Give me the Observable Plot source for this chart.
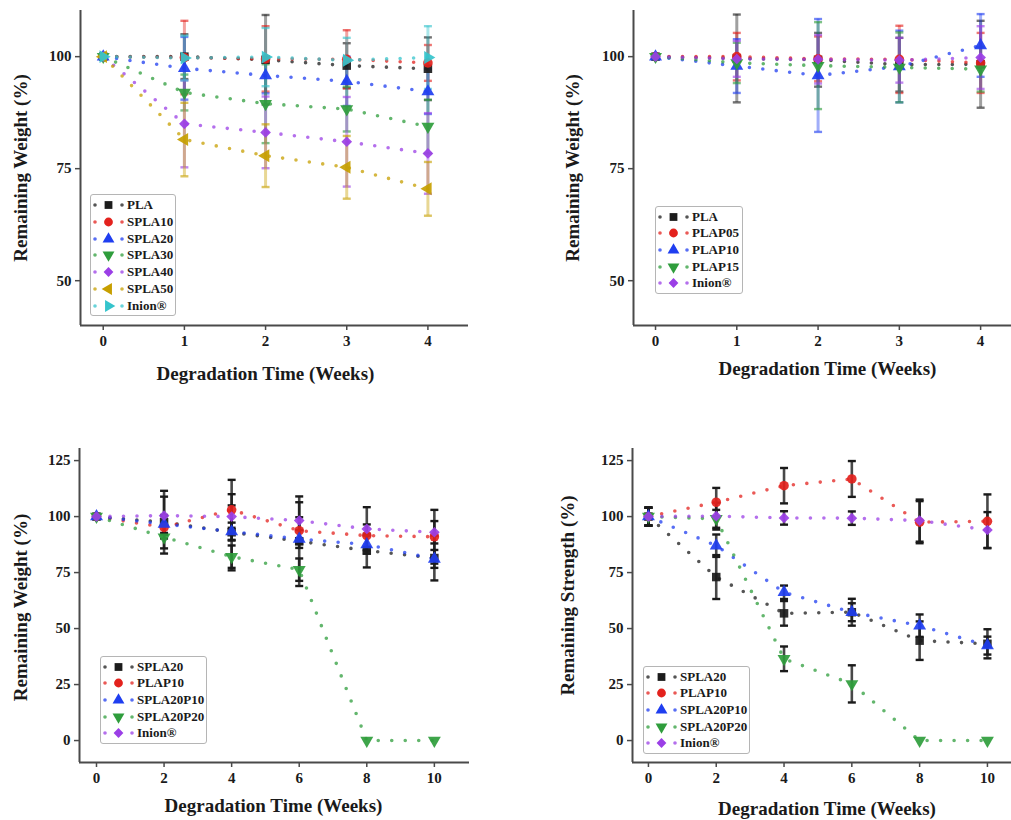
<!DOCTYPE html>
<html>
<head>
<meta charset="utf-8">
<script src="https://cdn.jsdelivr.net/npm/d3@7"></script>
<script src="https://cdn.jsdelivr.net/npm/@observablehq/plot@0.6"></script>
<style>
  body { margin: 0; background: #fff; }
  #root { position: relative; width: 1011px; height: 820px; overflow: hidden; background: #fff;
          font-family: "Liberation Serif", "Times New Roman", serif; }
  .panel { position: absolute; }
  .legend { position: absolute; border: 1px solid #b5b5b5; border-radius: 3px; background: #fff; box-sizing: border-box; }
  .legend .row { position: absolute; left: 0; height: 16px; }
  .legend .row span { position: absolute; left: 36px; font-size: 13px; font-weight: bold; color: #1a1a1a; white-space: nowrap; line-height: 16px; top: 0; }
</style>
</head>
<body>
<div id="root"></div>
<script>
// ---------------- DATA ----------------
// Panel A: remaining weight, SPLA blends (weeks 0-4)
const weeksA = [0, 1, 2, 3, 4];
const namesA = ["PLA", "SPLA10", "SPLA20", "SPLA30", "SPLA40", "SPLA50", "Inion®"];
const valuesA = [
  [100, 100.0, 99.3, 98.0, 97.3],
  [100, 99.8, 99.5, 99.4, 98.6],
  [100, 97.4, 95.8, 94.5, 92.2],
  [100, 92.0, 89.5, 88.3, 84.4],
  [100, 85.0, 83.1, 81.0, 78.4],
  [100, 81.5, 77.9, 75.3, 70.5],
  [100, 99.7, 99.9, 99.2, 99.8]
];
const errorsA = [
  [0, 5.0, 10.0, 5.0, 7.0],
  [0, 8.2, 7.3, 6.5, 4.0],
  [0, 7.0, 4.0, 5.5, 5.0],
  [0, 4.0, 8.8, 5.0, 6.0],
  [0, 9.7, 8.0, 10.0, 9.0],
  [0, 8.2, 7.0, 7.0, 6.0],
  [0, 5.0, 6.5, 5.0, 7.0]
];

// Panel B: remaining weight, PLA/PEG blends (weeks 0-4)
const weeksB = [0, 1, 2, 3, 4];
const namesB = ["PLA", "PLAP05", "PLAP10", "PLAP15", "Inion®"];
const valuesB = [
  [100, 99.6, 99.3, 98.2, 98.3],
  [100, 100.0, 99.5, 99.4, 98.6],
  [100, 97.9, 95.8, 97.8, 102.5],
  [100, 98.6, 98.0, 97.6, 97.2],
  [100, 99.5, 99.4, 99.2, 99.8]
];
const errorsB = [
  [0, 9.8, 6.0, 6.0, 9.7],
  [0, 5.3, 5.0, 7.5, 6.7],
  [0, 6.0, 12.6, 8.0, 7.0],
  [0, 4.5, 9.7, 7.8, 5.0],
  [0, 4.0, 5.4, 5.0, 7.0]
];

// Panel C: remaining weight, long term (weeks 0-10)
const weeksC = [0, 2, 4, 6, 8, 10];
const namesC = ["SPLA20", "PLAP10", "SPLA20P10", "SPLA20P20", "Inion®"];
const valuesC = [
  [100, 97.5, 93.0, 89.0, 84.8, 81.5],
  [100, 95.2, 103.0, 93.7, 91.5, 91.0],
  [100, 96.7, 93.3, 90.0, 87.5, 81.1],
  [100, 90.8, 82.1, 76.3, 0, 0],
  [100, 100.4, 100.0, 98.2, 94.5, 93.0]
];
const errorsC = [
  [0, 14.0, 17.0, 20.0, 7.5, 10.0],
  [0, 5.0, 13.4, 6.0, 5.0, 12.0],
  [0, 4.0, 4.0, 4.0, 4.0, 4.0],
  [0, 5.0, 5.0, 5.0, 0, 0],
  [0, 8.5, 5.0, 8.2, 9.7, 5.0]
];

// Panel D: remaining strength (weeks 0-10)
const weeksD = [0, 2, 4, 6, 8, 10];
const namesD = ["SPLA20", "PLAP10", "SPLA20P10", "SPLA20P20", "Inion®"];
const valuesD = [
  [100, 73.0, 56.8, 57.3, 44.6, 43.2],
  [100, 106.4, 113.8, 116.8, 97.5, 97.9],
  [100, 87.0, 66.2, 57.3, 51.3, 42.4],
  [100, 99.0, 36.5, 25.3, 0, 0],
  [100, 100.2, 99.4, 99.3, 98.2, 94.0]
];
const errorsD = [
  [4, 9.8, 5.5, 6.0, 8.6, 6.5],
  [4, 6.4, 7.9, 8.0, 9.4, 12.0],
  [4, 5.0, 3.0, 4.0, 5.0, 4.0],
  [4, 4.0, 5.5, 8.3, 0, 0],
  [4, 6.0, 3.0, 3.0, 9.4, 8.0]
];

const ticksWeight14 = [50, 75, 100];
const ticksWeek4 = [0, 1, 2, 3, 4];
const ticksPct = [0, 25, 50, 75, 100, 125];
const ticksWeek10 = [0, 2, 4, 6, 8, 10];

const xTitle = "Degradation Time (Weeks)";
const yTitleW = "Remaining Weight (%)";
const yTitleS = "Remaining Strength (%)";

// ---------------- STYLE ----------------
const C = {black: "#1c1c1c", red: "#e3221d", blue: "#1f3ef0", green: "#2f9d3c", purple: "#9b3fe6", gold: "#c79f00", cyan: "#35c4cc"};

// custom triangle symbols: angle of the tip (0 = up)
function triSym(rot) {
  return {
    draw(ctx, size) {
      const y = -Math.sqrt(size / (Math.sqrt(3) * 3));
      const pts = [[0, 2 * y], [-Math.sqrt(3) * y, -y], [Math.sqrt(3) * y, -y]];
      const c = Math.cos(rot), s = Math.sin(rot);
      pts.forEach(([px, py], i) => {
        const qx = px * c - py * s, qy = px * s + py * c;
        if (i === 0) ctx.moveTo(qx, qy); else ctx.lineTo(qx, qy);
      });
      ctx.closePath();
    }
  };
}
const triUp = triSym(0), triDown = triSym(Math.PI), triRight = triSym(Math.PI / 2), triLeft = triSym(-Math.PI / 2);
const capSym = {draw(ctx, size) { const w = Math.sqrt(size / Math.PI); ctx.moveTo(-w, 0); ctx.lineTo(w, 0); }};
const SYM = {square: d3.symbolSquare, circle: d3.symbolCircle, up: triUp, down: triDown, diamond: d3.symbolDiamond2, left: triLeft, right: triRight};

const FONT = '"Liberation Serif", "Times New Roman", serif';

function makePanel(cfg) {
  const rows = [];
  cfg.names.forEach((n, si) => cfg.weeks.forEach((w, wi) => rows.push({s: n, si, x: w, y: cfg.values[si][wi], e: cfg.errors[si][wi]})));
  const marks = [];
  // error bars
  cfg.names.forEach((n, si) => {
    const d = rows.filter(r => r.si === si && r.e > 0);
    const col = cfg.coloredBars ? cfg.colors[si] : "#1a1a1a";
    const op = cfg.coloredBars ? 0.42 : 0.8;
    marks.push(Plot.ruleX(d, {x: "x", y1: r => r.y - r.e, y2: r => r.y + r.e, stroke: col, strokeWidth: cfg.coloredBars ? 3 : 2.6, strokeOpacity: op}));
    marks.push(Plot.dot(d, {x: "x", y: r => r.y + r.e, symbol: capSym, r: 4, stroke: col, strokeWidth: 2.4, strokeOpacity: Math.min(1, op + 0.2), fill: "none"}));
    marks.push(Plot.dot(d, {x: "x", y: r => r.y - r.e, symbol: capSym, r: 4, stroke: col, strokeWidth: 2.4, strokeOpacity: Math.min(1, op + 0.2), fill: "none"}));
  });
  // dotted lines
  cfg.names.forEach((n, si) => {
    marks.push(Plot.line(rows.filter(r => r.si === si), {x: "x", y: "y", stroke: cfg.colors[si], strokeWidth: 3.6, strokeDasharray: "0 13.5", strokeLinecap: "round", strokeOpacity: 0.75}));
  });
  // markers
  cfg.names.forEach((n, si) => {
    marks.push(Plot.dot(rows.filter(r => r.si === si), {x: "x", y: "y", symbol: SYM[cfg.symbols[si]], r: 4.8, fill: cfg.colors[si], fillOpacity: 0.92, stroke: "none"}));
  });
  // axes
  marks.push(Plot.ruleY([cfg.yDomain[0]], {stroke: "#4a4a4a", strokeWidth: 2}));
  marks.push(Plot.ruleX([cfg.xDomain[0]], {stroke: "#4a4a4a", strokeWidth: 2}));
  marks.push(Plot.axisX({ticks: cfg.xTicks, tickSize: 5, tickPadding: 5, tickFormat: d => String(d), label: null, stroke: "#4a4a4a", strokeWidth: 1.5, fontSize: 15, fontWeight: "bold", fill: "#1a1a1a"}));
  marks.push(Plot.axisY({ticks: cfg.yTicks, tickSize: 5, tickPadding: 4, tickFormat: d => String(d), label: null, stroke: "#4a4a4a", strokeWidth: 1.5, fontSize: 15, fontWeight: "bold", fill: "#1a1a1a"}));
  marks.push(Plot.text([cfg.xTitle], {text: d => d, frameAnchor: "bottom", textAnchor: "middle", lineAnchor: "middle", dx: cfg.xlDx, dy: cfg.xlDy, fontSize: 19, fontWeight: "bold", fill: "#1a1a1a"}));
  marks.push(Plot.text([cfg.yTitle], {text: d => d, frameAnchor: "left", textAnchor: "middle", lineAnchor: "middle", rotate: -90, dx: cfg.ylDx, dy: cfg.ylDy, fontSize: 19, fontWeight: "bold", fill: "#1a1a1a"}));

  const chart = Plot.plot({
    width: cfg.width, height: cfg.height,
    marginLeft: cfg.mL, marginRight: cfg.mR, marginTop: cfg.mT, marginBottom: cfg.mB,
    x: {domain: cfg.xDomain, axis: null},
    y: {domain: cfg.yDomain, axis: null},
    style: {fontFamily: FONT, background: "transparent", overflow: "visible"},
    marks
  });
  const wrap = document.createElement("div");
  wrap.className = "panel";
  wrap.style.left = cfg.left + "px";
  wrap.style.top = cfg.top + "px";
  wrap.appendChild(chart);
  document.getElementById("root").appendChild(wrap);

  // legend
  const L = cfg.legend;
  const box = document.createElement("div");
  box.className = "legend";
  box.style.left = L.x + "px"; box.style.top = L.y + "px";
  box.style.width = L.w + "px"; box.style.height = L.h + "px";
  cfg.names.forEach((n, si) => {
    const row = document.createElement("div");
    row.className = "row";
    row.style.top = (L.first - L.y - 8 + si * L.step - 1) + "px";
    row.style.width = L.w + "px";
    const svg = d3.create("svg").attr("width", 36).attr("height", 16).style("position", "absolute").style("left", "0px").style("top", "0px");
    svg.append("circle").attr("cx", 4).attr("cy", 8).attr("r", 1.8).attr("fill", cfg.colors[si]).attr("fill-opacity", 0.75);
    svg.append("circle").attr("cx", 31).attr("cy", 8).attr("r", 1.8).attr("fill", cfg.colors[si]).attr("fill-opacity", 0.75);
    svg.append("path").attr("transform", "translate(17.5,8)").attr("d", d3.symbol(SYM[cfg.symbols[si]], Math.PI * 4.4 * 4.4)()).attr("fill", cfg.colors[si]);
    row.appendChild(svg.node());
    const sp = document.createElement("span");
    sp.textContent = n;
    row.appendChild(sp);
    box.appendChild(row);
  });
  document.getElementById("root").appendChild(box);
}

makePanel({
  left: 0, top: 0, width: 500, height: 420, mL: 80, mR: 32, mT: 10, mB: 95,
  xDomain: [-0.28, 4.5], yDomain: [40, 110.3], xTicks: ticksWeek4, yTicks: ticksWeight14,
  weeks: weeksA, names: namesA, values: valuesA, errors: errorsA,
  colors: [C.black, C.red, C.blue, C.green, C.purple, C.gold, C.cyan],
  symbols: ["square", "circle", "up", "down", "diamond", "left", "right"],
  coloredBars: true, xTitle, yTitle: yTitleW, xlDx: -9, xlDy: 48, ylDx: -60, ylDy: 0,
  legend: {x: 90, y: 194, w: 86, h: 122, first: 205, step: 16.8}
});
makePanel({
  left: 500, top: 0, width: 511, height: 420, mL: 133, mR: 0, mT: 10, mB: 95,
  xDomain: [-0.271, 4.38], yDomain: [40, 110.3], xTicks: ticksWeek4, yTicks: ticksWeight14,
  weeks: weeksB, names: namesB, values: valuesB, errors: errorsB,
  colors: [C.black, C.red, C.blue, C.green, C.purple],
  symbols: ["square", "circle", "up", "down", "diamond"],
  coloredBars: true, xTitle, yTitle: yTitleW, xlDx: 5, xlDy: 43, ylDx: -61, ylDy: 0,
  legend: {x: 655, y: 206, w: 88, h: 88, first: 216.7, step: 16.67}
});
makePanel({
  left: 0, top: 420, width: 500, height: 400, mL: 79, mR: 31, mT: 28, mB: 58,
  xDomain: [-0.503, 11.04], yDomain: [-9.8, 130.4], xTicks: ticksWeek10, yTicks: ticksPct,
  weeks: weeksC, names: namesC, values: valuesC, errors: errorsC,
  colors: [C.black, C.red, C.blue, C.green, C.purple],
  symbols: ["square", "circle", "up", "down", "diamond"],
  coloredBars: false, xTitle, yTitle: yTitleW, xlDx: -1, xlDy: 43, ylDx: -59, ylDy: 2,
  legend: {x: 100, y: 656, w: 107, h: 88, first: 666.7, step: 16.67}
});
makePanel({
  left: 500, top: 420, width: 511, height: 400, mL: 132, mR: 0, mT: 28, mB: 58,
  xDomain: [-0.47, 10.71], yDomain: [-9.8, 130.4], xTicks: ticksWeek10, yTicks: ticksPct,
  weeks: weeksD, names: namesD, values: valuesD, errors: errorsD,
  colors: [C.black, C.red, C.blue, C.green, C.purple],
  symbols: ["square", "circle", "up", "down", "diamond"],
  coloredBars: false, xTitle, yTitle: yTitleS, xlDx: 5, xlDy: 46, ylDx: -65, ylDy: -10,
  legend: {x: 643, y: 666, w: 107, h: 88, first: 676.7, step: 16.67}
});
</script>
</body>
</html>
